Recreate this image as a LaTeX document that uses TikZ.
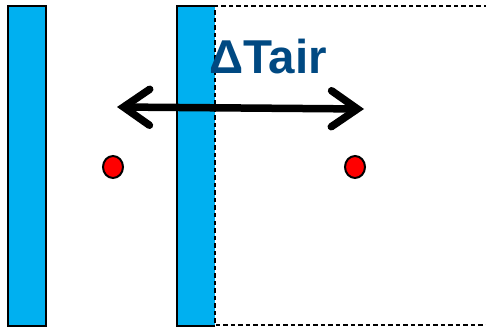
\documentclass[tikz,border=0pt]{standalone}
\usepackage{fontspec}
\setmainfont{Liberation Sans}
\usetikzlibrary{arrows.meta,shapes.geometric}
\definecolor{pane}{RGB}{0,176,240}
\definecolor{label}{RGB}{0,73,130}
\definecolor{probe}{RGB}{255,0,0}

\begin{document}
\begin{tikzpicture}[x=1pt,y=-1pt,
  wall/.style={fill=pane,draw=black,line width=2.5pt},
  gap/.style={draw=black,line width=2pt,dash pattern=on 4.5pt off 3pt},
  sensor/.style={ellipse,fill=probe,draw=black,line width=2pt,minimum width=20pt,minimum height=22pt,inner sep=0pt},
  barb/.tip={Straight Barb[length=26pt,width=36pt,line cap=round]}]
\useasboundingbox (0,0) rectangle (486,328);
\fill[white] (0,0) rectangle (486,328);
\draw[wall] (8,6) rectangle (46,326);
\fill[pane] (177,6) rectangle (215,326);
\draw[black,line width=2.5pt] (215,6) -- (177,6) -- (177,326) -- (215,326);
\draw[gap] (488,6) -- (215,6) -- (215,325) -- (488,325);
\node[font=\fontsize{47.5}{50}\selectfont\bfseries,text=label,inner sep=0pt] (dtair) at (268,57) {ΔTair};
\node[sensor] (inside) at (113,167) {};
\node[sensor] (outside) at (355,167) {};
\coordinate (warmL) at (117,107);
\coordinate (warmR) at (364,109);
\draw[line width=7.5pt,barb-barb] (warmL) -- (warmR);
\end{tikzpicture}
\end{document}
